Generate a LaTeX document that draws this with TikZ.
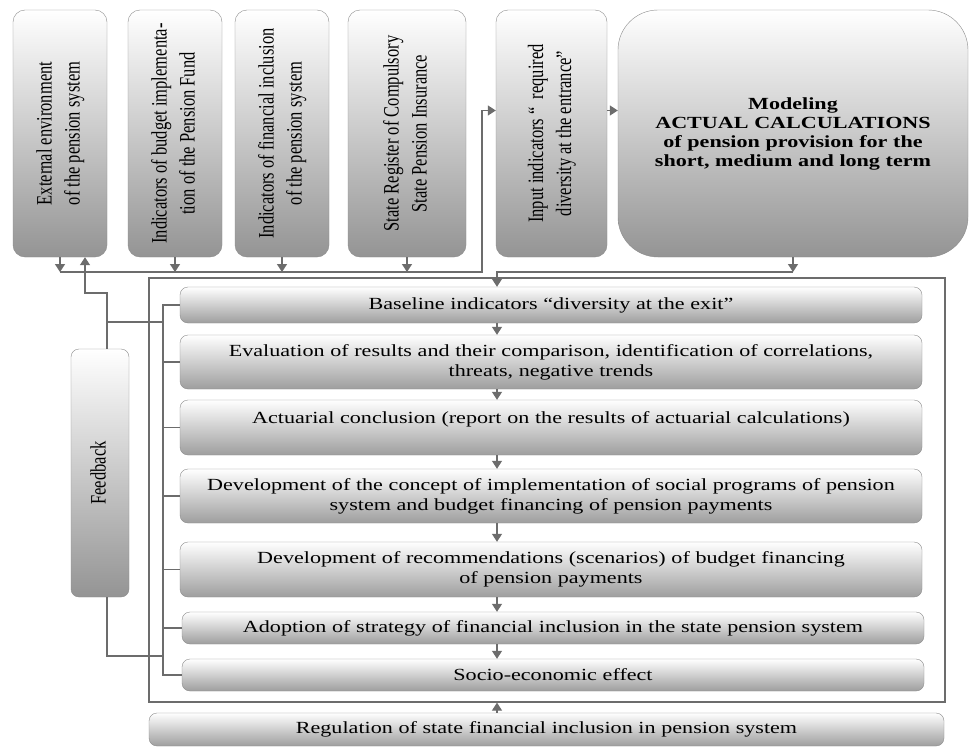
\documentclass[tikz,border=0pt]{standalone}
\usepackage{fontspec}
\setmainfont{Liberation Serif}[FakeStretch=1.3]
\newfontfamily\sidefont{Liberation Serif}[FakeStretch=0.75]
\usetikzlibrary{arrows.meta}
\definecolor{linegray}{RGB}{108,108,108}
\definecolor{edgegray}{RGB}{140,140,140}
\newcommand{\vtext}[1]{\rotatebox{90}{\sidefont\fontsize{22}{28}\selectfont\begin{tabular}{@{}c@{}}#1\end{tabular}}}
\begin{document}
\begin{tikzpicture}[x=1pt,y=-1pt,
	topbox/.style={draw=edgegray,rounded corners=12pt,top color=white,bottom color=black!42,minimum height=247pt,inner sep=0pt},
	stagebox/.style={draw=edgegray,rounded corners=8pt,top color=white,bottom color=black!38,minimum width=742pt,text width=730pt,align=center,font=\fontsize{17}{20}\selectfont,inner sep=2pt},
	link/.style={draw=linegray,line width=1.3pt},
	arr/.style={link,-{Triangle[width=10pt,length=8pt]}}]
	\useasboundingbox[fill=white] (0,0) rectangle (970,747);
	\node[topbox,minimum width=94pt] (ext) at (60,133.5) {\vtext{External environment\\of the pension system}};
	\node[topbox,minimum width=94pt] (budget) at (175,133.5) {\vtext{Indicators of budget implementa-\\tion of the Pension Fund}};
	\node[topbox,minimum width=94pt] (fin) at (282,133.5) {\vtext{Indicators of financial inclusion\\of the pension system}};
	\node[topbox,minimum width=118pt] (register) at (407,133.5) {\vtext{State Register of Compulsory\\State Pension Insurance}};
	\node[topbox,minimum width=111pt] (input) at (551.5,133.5) {\vtext{Input indicators “~ required\\diversity at the entrance”}};
	\node[topbox,minimum width=350pt,rounded corners=40pt,text width=330pt,align=center,font=\bfseries\fontsize{17}{19}\selectfont] (model) at (793,133.5) {Modeling\\ACTUAL CALCULATIONS\\of pension provision for the\\short, medium and long term};
	\node[draw=linegray,line width=1.3pt,minimum width=796pt,minimum height=424pt] (panel) at (547,490) {};
	\node[stagebox,minimum height=36pt] (base) at (551,305) {Baseline indicators “diversity at the exit”};
	\node[stagebox,minimum height=54pt] (eval) at (551,362) {Evaluation of results and their comparison, identification of correlations,\\threats, negative trends};
	\node[stagebox,minimum height=55pt,text depth=20pt] (actu) at (551,427.5) {Actuarial conclusion (report on the results of actuarial calculations)};
	\node[stagebox,minimum height=54pt] (conc) at (551,496) {Development of the concept of implementation of social programs of pension\\system and budget financing of pension payments};
	\node[stagebox,minimum height=55pt] (reco) at (551,569.5) {Development of recommendations (scenarios) of budget financing\\of pension payments};
	\node[stagebox,minimum height=32pt] (adop) at (553,628) {Adoption of strategy of financial inclusion in the state pension system};
	\node[stagebox,minimum height=32pt] (soc) at (553,675) {Socio-economic effect};
	\node[stagebox,minimum width=795pt,text width=780pt,minimum height=33pt] (regu) at (546.5,729.5) {Regulation of state financial inclusion in pension system};
	\node[draw=edgegray,rounded corners=8pt,top color=white,bottom color=black!42,minimum width=58pt,minimum height=248pt,inner sep=0pt] (fb) at (100,473) {\vtext{Feedback}};
	\coordinate (topbus) at (482,272);
	\coordinate (spine) at (497,272);
	\coordinate (fbus) at (163,0);
	\coordinate (fbjoin) at (107,322);
	\coordinate (fbturn) at (107,293);
	\coordinate (fbbot) at (107,656);
	\foreach \n in {ext,budget,fin,register} \draw[arr] (\n.south) -- (\n.south |- topbus);
	\draw[arr] (ext.south |- topbus) -- (topbus) |- ([yshift=23pt]input.west);
	\draw[arr] ([yshift=23pt]input.east) -- ([yshift=23pt]input.east -| model.west);
	\draw[arr] (model.south) -- (model.south |- spine);
	\draw[arr] (model.south |- spine) -- (spine) -- (base.north -| spine);
	\foreach \a/\b in {base/eval,eval/actu,actu/conc,conc/reco,reco/adop,adop/soc} \draw[arr] (\a.south -| spine) -- (\b.north -| spine);
	\draw[arr] (regu.north -| spine) -- (panel.south -| spine);
	\draw[link] (base.west) -- (base.west -| fbus) -- (soc.west -| fbus) -- (soc.west);
	\foreach \n in {eval,actu,conc,reco,adop} \draw[link] (\n.west) -- (\n.west -| fbus);
	\draw[arr] (fbjoin -| fbus) -- (fbjoin) -- (fbturn) -| ([xshift=25pt]ext.south);
	\draw[link] ([xshift=7pt]fb.north) -- (fbjoin);
	\draw[link] ([xshift=7pt]fb.south) -- (fbbot) -- (fbbot -| fbus);
\end{tikzpicture}
\end{document}
